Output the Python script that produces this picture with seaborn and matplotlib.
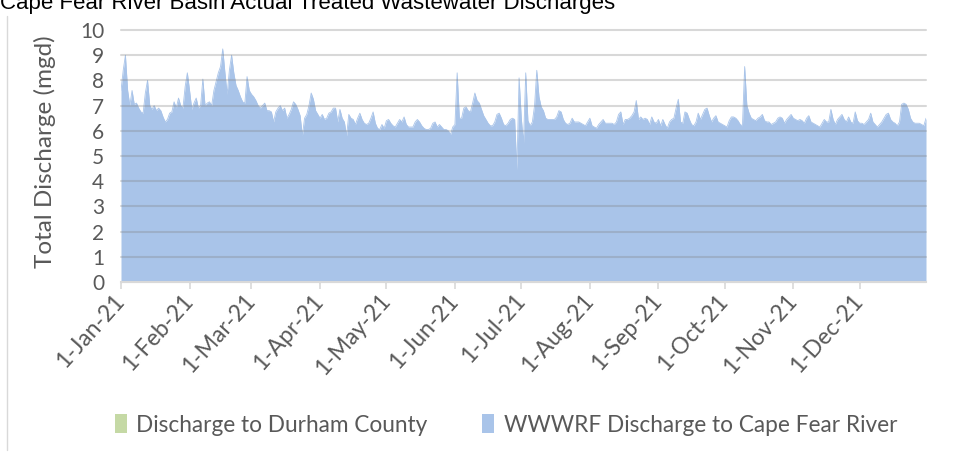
import pandas as pd
import matplotlib
matplotlib.use("Agg")
import matplotlib.pyplot as plt
import matplotlib.dates as mdates
from matplotlib.patches import Patch
from matplotlib.lines import Line2D
from matplotlib.ticker import FuncFormatter
import seaborn as sns

title = "Cape Fear River Basin Actual Treated Wastewater Discharges"
y_label = "Total Discharge (mgd)"
series_names = ["Discharge to Durham County", "WWWRF Discharge to Cape Fear River"]
series_colors = ["#c5d9a5", "#a9c4e9"]
start_date = "2021-01-01"
y_ticks = [0, 1, 2, 3, 4, 5, 6, 7, 8, 9, 10]

# daily WWWRF discharge (mgd), 1-Jan-21 .. 31-Dec-21
cape_fear = [
    7.6, 8.4, 9.0, 7.6, 7.0, 7.6, 7.05, 7.1, 6.9, 6.75,
    6.7, 7.5, 8.0, 7.0, 6.85, 7.0, 6.8, 6.9, 6.8, 6.55,
    6.35, 6.45, 6.7, 6.75, 7.15, 6.9, 7.3, 7.0, 6.9, 7.75,
    8.3, 7.6, 6.85, 7.1, 7.3, 6.9, 7.0, 8.05, 7.0, 7.1,
    7.15, 7.0, 7.6, 7.95, 8.3, 8.55, 9.25, 8.3, 7.45, 8.4,
    9.0, 8.3, 7.8, 7.6, 7.35, 7.15, 7.1, 8.15, 7.6, 7.45,
    7.35, 7.2, 7.0, 6.9, 7.0, 7.1, 6.8, 6.8, 6.75, 6.35,
    6.75, 6.9, 7.0, 6.8, 6.9, 6.5, 6.65, 6.85, 7.15, 7.05,
    6.85, 6.6, 5.8, 6.5, 6.65, 7.0, 7.5, 7.25, 6.8, 6.65,
    6.5, 6.65, 6.45, 6.5, 6.7, 6.75, 6.9, 6.9, 6.35, 6.85,
    6.5, 6.35, 5.8, 6.65, 6.5, 6.45, 6.25, 6.5, 6.7, 6.45,
    6.3, 6.25, 6.3, 6.5, 6.75, 6.3, 6.1, 6.05, 6.25, 6.1,
    6.4, 6.45, 6.3, 6.2, 6.15, 6.3, 6.45, 6.35, 6.55, 6.25,
    6.15, 6.15, 6.15, 6.35, 6.45, 6.35, 6.2, 6.1, 6.05, 6.05,
    6.1, 6.3, 6.35, 6.15, 6.25, 6.15, 6.05, 6.05, 6.0, 5.85,
    6.15, 6.25, 8.3, 6.5, 6.5, 6.9, 6.95, 6.8, 6.75, 7.1,
    7.5, 7.2, 7.1, 6.85, 6.6, 6.45, 6.3, 6.2, 6.2, 6.35,
    6.65, 6.7, 6.5, 6.25, 6.2, 6.3, 6.45, 6.5, 6.45, 4.45,
    8.1, 6.5, 5.5, 8.3, 6.4, 6.2, 6.35, 7.0, 8.4, 7.35,
    6.95, 6.8, 6.5, 6.45, 6.45, 6.45, 6.45, 6.55, 6.8, 6.75,
    6.45, 6.3, 6.25, 6.3, 6.5, 6.35, 6.35, 6.35, 6.3, 6.25,
    6.2, 6.35, 6.5, 6.2, 6.15, 6.1, 6.25, 6.35, 6.45, 6.3,
    6.3, 6.3, 6.3, 6.25, 6.35, 6.65, 6.75, 6.25, 6.45, 6.45,
    6.5, 6.6, 6.75, 7.2, 6.45, 6.55, 6.45, 6.5, 6.45, 6.25,
    6.55, 6.35, 6.3, 6.45, 6.2, 6.45, 6.25, 6.1, 6.35, 6.45,
    6.5, 6.9, 7.25, 6.35, 6.3, 6.75, 6.7, 6.45, 6.25, 6.2,
    6.35, 6.7, 6.45, 6.65, 6.85, 6.9, 6.6, 6.35, 6.5, 6.6,
    6.35, 6.3, 6.25, 6.2, 6.15, 6.4, 6.55, 6.55, 6.5, 6.4,
    6.25, 6.2, 8.55, 7.0, 6.7, 6.5, 6.45, 6.4, 6.5, 6.55,
    6.65, 6.4, 6.35, 6.35, 6.25, 6.3, 6.35, 6.5, 6.55, 6.5,
    6.3, 6.45, 6.55, 6.65, 6.5, 6.45, 6.4, 6.45, 6.4, 6.3,
    6.5, 6.6, 6.35, 6.3, 6.25, 6.2, 6.15, 6.3, 6.45, 6.35,
    6.35, 6.85, 6.45, 6.25, 6.45, 6.55, 6.65, 6.45, 6.35, 6.55,
    6.35, 6.3, 6.75, 6.4, 6.3, 6.3, 6.25, 6.35, 6.45, 6.7,
    6.35, 6.25, 6.15, 6.25, 6.35, 6.5, 6.65, 6.7, 6.45, 6.35,
    6.3, 6.2, 6.35, 7.05, 7.1, 7.05, 6.85, 6.5, 6.35, 6.3,
    6.3, 6.3, 6.25, 6.2, 6.5,
]

df = pd.DataFrame({
    "date": pd.date_range(start_date, periods=len(cape_fear), freq="D"),
    "mgd": cape_fear,
})

sns.set_theme(style="white")
plt.rcParams["font.family"] = ["Lato", "DejaVu Sans"]

W, H = 962, 457
fig = plt.figure(figsize=(W / 100, H / 100), dpi=100)
ax = fig.add_axes([121 / W, 1 - 282 / H, 805 / W, 252 / H])

ax.fill_between(df["date"], df["mgd"], 0, color=series_colors[1], lw=0, zorder=2)
sns.lineplot(data=df, x="date", y="mgd", ax=ax, color=series_colors[1], lw=0.6, zorder=2)

# gridlines sit on top of the area, showing through darker like Excel
for y in y_ticks:
    ax.axhline(y, color="#7f7f7f", alpha=0.3, lw=1.5, zorder=3, clip_on=False)

ax.set_xlim(df["date"].iloc[0], df["date"].iloc[-1])
ax.set_ylim(0, 10)
ax.set_yticks(y_ticks)
ax.set_xlabel("")
ax.set_ylabel("")

ax.xaxis.set_major_locator(mdates.MonthLocator())
ax.xaxis.set_major_formatter(FuncFormatter(
    lambda v, pos: f"{mdates.num2date(v).day}-{mdates.num2date(v):%b-%y}"))

for side in ["left", "right", "top"]:
    ax.spines[side].set_visible(False)
ax.spines["bottom"].set_color("#d9d9d9")
ax.spines["bottom"].set_linewidth(1.5)
ax.spines["bottom"].set_zorder(4)

ax.tick_params(axis="x", direction="out", length=5, width=1.2, color="#d9d9d9",
               labelsize=16.5, labelcolor="#595959", pad=6, bottom=True)
ax.tick_params(axis="y", length=0, labelsize=15, labelcolor="#595959", pad=12)
for lbl in ax.get_xticklabels():
    lbl.set_rotation(48)
    lbl.set_ha("right")
    lbl.set_va("center")
    lbl.set_rotation_mode("anchor")

fig.text(45 / W, 1 - 152 / H, y_label, rotation=90, ha="center", va="center",
         fontsize=17.5, color="#595959")

# title is cut off at the top edge of the image, as in the source
fig.text(0, 1 - 9 / H, title, family=["Liberation Sans", "DejaVu Sans"],
         fontsize=16, color="black", ha="left", va="baseline")

# thin chart border on the left
fig.add_artist(Line2D([7 / W, 7 / W], [1 - 450 / H, 1 - 16 / H], color="#d9d9d9", lw=1))

handles = [Patch(facecolor=c, edgecolor="none", label=n)
           for n, c in zip(series_names, series_colors)]
fig.legend(handles=handles, loc="center", bbox_to_anchor=(506 / W, 1 - 425 / H),
           ncol=2, frameon=False, fontsize=16.3, handlelength=0.55, handleheight=0.9,
           handletextpad=0.4, columnspacing=2.4, labelcolor="#595959")

fig.savefig("out.png", dpi=100)
